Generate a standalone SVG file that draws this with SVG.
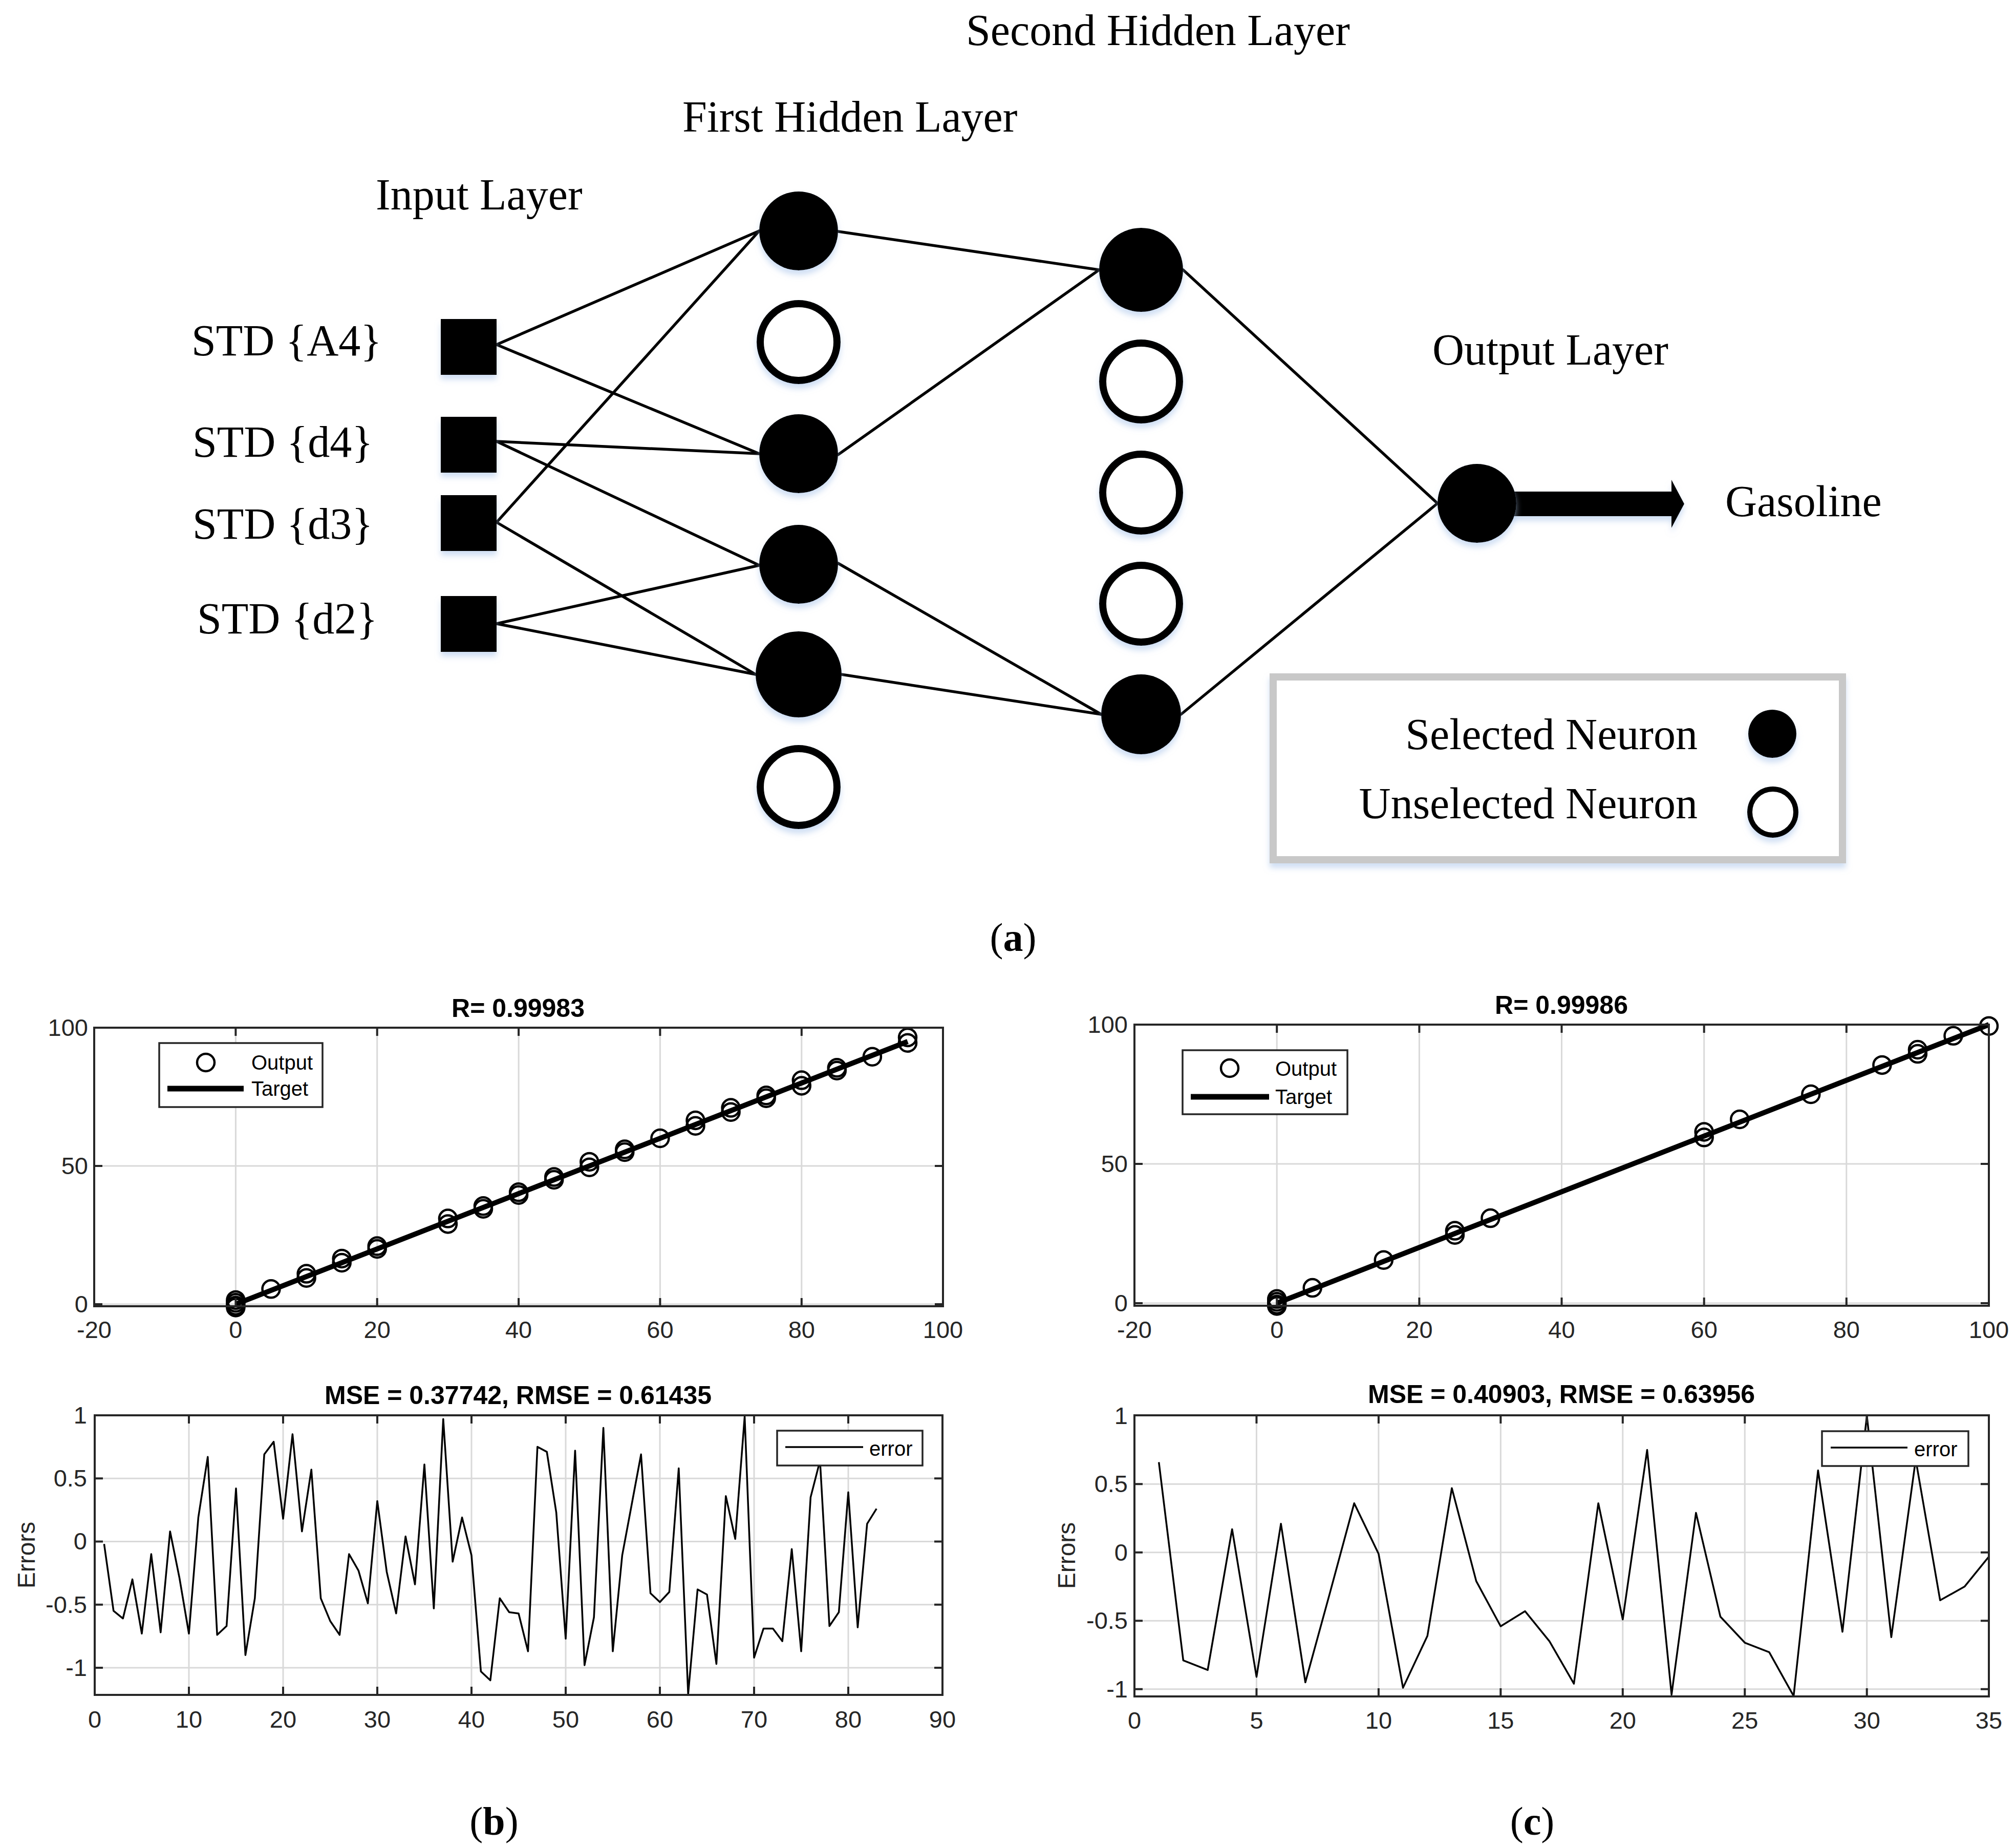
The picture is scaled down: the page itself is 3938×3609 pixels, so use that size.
<svg xmlns="http://www.w3.org/2000/svg" width="3938" height="3609" viewBox="0 0 3938 3609">
<defs>
<filter id="sh" x="-20%" y="-20%" width="140%" height="150%">
<feDropShadow dx="0" dy="9" stdDeviation="6" flood-color="#a8c4ea" flood-opacity="0.55"/>
</filter>
<style>
.serif{font-family:"Liberation Serif","Times New Roman",serif;font-size:86px;fill:#000}
.cap{font-family:"Liberation Serif","Times New Roman",serif;font-size:78px;fill:#000}
.fill{fill:#000;filter:url(#sh)}
.hol{fill:#fff;stroke:#000;stroke-width:14;filter:url(#sh)}
.conn{stroke:#000;stroke-width:5.5;fill:none;stroke-linecap:round}
.ax{fill:none;stroke:#262626;stroke-width:4}
.tk{fill:none;stroke:#262626;stroke-width:4}
.grid{stroke:#d9d9d9;stroke-width:3;fill:none}
.tl{font-family:"Liberation Sans",Arial,sans-serif;font-size:47px;fill:#262626}
.ttl{font-family:"Liberation Sans",Arial,sans-serif;font-size:50px;font-weight:bold;fill:#000}
.lg{font-family:"Liberation Sans",Arial,sans-serif;font-size:40px;fill:#000}
.ylab{font-family:"Liberation Sans",Arial,sans-serif;font-size:48px;fill:#262626}
.mk{fill:none;stroke:#000;stroke-width:4.5}
.tgt{stroke:#000;stroke-width:10;fill:none}
.err{fill:none;stroke:#000;stroke-width:3.5;vector-effect:non-scaling-stroke;stroke-linejoin:round}
.lgbox{fill:#fff;stroke:#262626;stroke-width:3.5}
</style>
</defs>
<rect width="3938" height="3609" fill="#fff"/>

<!-- layer titles -->
<g id="titles">
<text class="serif" x="1887" y="88">Second Hidden Layer</text>
<text class="serif" x="1333" y="257">First Hidden Layer</text>
<text class="serif" x="734" y="409">Input Layer</text>
<text class="serif" x="2798" y="712">Output Layer</text>
</g>

<!-- connectors -->
<g id="connectors">
<line class="conn" x1="970" y1="673" x2="1483" y2="451"/>
<line class="conn" x1="970" y1="673" x2="1483" y2="886"/>
<line class="conn" x1="970" y1="862" x2="1483" y2="886"/>
<line class="conn" x1="970" y1="862" x2="1483" y2="1104"/>
<line class="conn" x1="970" y1="1020" x2="1483" y2="451"/>
<line class="conn" x1="970" y1="1020" x2="1476" y2="1317"/>
<line class="conn" x1="970" y1="1218" x2="1483" y2="1104"/>
<line class="conn" x1="970" y1="1218" x2="1476" y2="1317"/>
<line class="conn" x1="1637" y1="452" x2="2147" y2="527"/>
<line class="conn" x1="1637" y1="888" x2="2147" y2="527"/>
<line class="conn" x1="1637" y1="1100" x2="2151" y2="1395"/>
<line class="conn" x1="1643" y1="1317" x2="2151" y2="1395"/>
<line class="conn" x1="2311" y1="527" x2="2808" y2="983"/>
<line class="conn" x1="2307" y1="1395" x2="2808" y2="983"/>
</g>

<!-- input layer -->
<g id="in-A4"><text class="serif" x="374" y="694">STD {A4}</text><rect class="fill" x="861" y="623" width="109" height="109"/></g>
<g id="in-d4"><text class="serif" x="376" y="892">STD {d4}</text><rect class="fill" x="861" y="814" width="109" height="109"/></g>
<g id="in-d3"><text class="serif" x="376" y="1052">STD {d3}</text><rect class="fill" x="861" y="967" width="109" height="109"/></g>
<g id="in-d2"><text class="serif" x="385" y="1237">STD {d2}</text><rect class="fill" x="861" y="1164" width="109" height="109"/></g>

<!-- first hidden layer -->
<g id="h1-1"><circle class="fill" cx="1560" cy="451" r="77"/></g>
<g id="h1-2"><circle class="hol" cx="1560" cy="668" r="75"/></g>
<g id="h1-3"><circle class="fill" cx="1560" cy="886" r="77"/></g>
<g id="h1-4"><circle class="fill" cx="1560" cy="1102" r="77"/></g>
<g id="h1-5"><circle class="fill" cx="1560" cy="1317" r="84"/></g>
<g id="h1-6"><circle class="hol" cx="1560" cy="1537" r="75"/></g>

<!-- second hidden layer -->
<g id="h2-1"><circle class="fill" cx="2229" cy="527" r="82"/></g>
<g id="h2-2"><circle class="hol" cx="2229" cy="745" r="75"/></g>
<g id="h2-3"><circle class="hol" cx="2229" cy="962" r="75"/></g>
<g id="h2-4"><circle class="hol" cx="2229" cy="1179" r="75"/></g>
<g id="h2-5"><circle class="fill" cx="2229" cy="1395" r="78"/></g>

<!-- output -->
<g id="output">
<polygon class="fill" points="2885,960 3265,960 3265,937 3290,984 3265,1031 3265,1008 2885,1008"/>
<circle class="fill" cx="2885" cy="983" r="77"/>
<text class="serif" x="3370" y="1008">Gasoline</text>
</g>

<!-- legend -->
<g id="legend">
<rect x="2487" y="1322" width="1112" height="357" fill="#fff" stroke="#c8c8c8" stroke-width="14" filter="url(#sh)"/>
<text class="serif" x="3316" y="1463" text-anchor="end">Selected Neuron</text>
<text class="serif" x="3316" y="1598" text-anchor="end">Unselected Neuron</text>
<circle class="fill" cx="3462" cy="1433" r="47"/>
<circle cx="3463" cy="1586" r="45" fill="#fff" stroke="#000" stroke-width="10" filter="url(#sh)"/>
</g>

<text class="cap" x="1979" y="1857" text-anchor="middle">(<tspan font-weight="bold">a</tspan>)</text>

<!-- ===== plot b top ===== -->
<g id="plot-b-top">
<text class="ttl" x="1012" y="1986" text-anchor="middle">R= 0.99983</text>
<path class="grid" d="M460.4 2007V2551M736.7 2007V2551M1013.1 2007V2551M1289.4 2007V2551M1565.8 2007V2551M184 2277H1842M184 2547H1842"/>
<line class="tgt" x1="460.4" y1="2547" x2="1773" y2="2034"/>
<g class="mk">
<circle cx="460.4" cy="2538.9" r="17"/><circle cx="460.4" cy="2544.3" r="17"/><circle cx="460.4" cy="2549.7" r="17"/><circle cx="460.4" cy="2553.5" r="17"/>
<circle cx="529.5" cy="2517.3" r="17"/>
<circle cx="598.6" cy="2495.7" r="17"/><circle cx="598.6" cy="2487.6" r="17"/>
<circle cx="667.7" cy="2466" r="17"/><circle cx="667.7" cy="2457.9" r="17"/>
<circle cx="736.7" cy="2439" r="17"/><circle cx="736.7" cy="2433.6" r="17"/>
<circle cx="874.9" cy="2390.4" r="17"/><circle cx="874.9" cy="2379.6" r="17"/>
<circle cx="944" cy="2360.7" r="17"/><circle cx="944" cy="2355.3" r="17"/>
<circle cx="1013.1" cy="2333.7" r="17"/><circle cx="1013.1" cy="2328.3" r="17"/>
<circle cx="1082.2" cy="2304" r="17"/><circle cx="1082.2" cy="2298.6" r="17"/>
<circle cx="1151.3" cy="2279.7" r="17"/><circle cx="1151.3" cy="2268.9" r="17"/>
<circle cx="1220.3" cy="2250" r="17"/><circle cx="1220.3" cy="2244.6" r="17"/>
<circle cx="1289.4" cy="2223" r="17"/>
<circle cx="1358.5" cy="2198.7" r="17"/><circle cx="1358.5" cy="2187.9" r="17"/>
<circle cx="1427.6" cy="2171.7" r="17"/><circle cx="1427.6" cy="2163.6" r="17"/>
<circle cx="1496.7" cy="2144.7" r="17"/><circle cx="1496.7" cy="2139.3" r="17"/>
<circle cx="1565.8" cy="2120.4" r="17"/><circle cx="1565.8" cy="2109.6" r="17"/>
<circle cx="1634.8" cy="2090.7" r="17"/><circle cx="1634.8" cy="2085.3" r="17"/>
<circle cx="1703.9" cy="2063.7" r="17"/>
<circle cx="1773" cy="2036.7" r="17"/><circle cx="1773" cy="2025.9" r="17"/>
</g>
<rect class="lgbox" x="311" y="2037" width="319" height="125"/>
<circle class="mk" cx="402" cy="2075" r="17"/>
<text class="lg" x="491" y="2089">Output</text>
<line x1="327" y1="2126" x2="476" y2="2126" stroke="#000" stroke-width="11"/>
<text class="lg" x="491" y="2140">Target</text>
<rect class="ax" x="184" y="2007" width="1658" height="544"/>
<path class="tk" d="M460.4 2551v-16M736.7 2551v-16M1013.1 2551v-16M1289.4 2551v-16M1565.8 2551v-16M460.4 2007v16M736.7 2007v16M1013.1 2007v16M1289.4 2007v16M1565.8 2007v16M184 2547h16M184 2277h16M1842 2547h-16M1842 2277h-16"/>
<g class="tl" text-anchor="middle">
<text x="184" y="2613">-20</text><text x="460.4" y="2613">0</text><text x="736.7" y="2613">20</text><text x="1013.1" y="2613">40</text><text x="1289.4" y="2613">60</text><text x="1565.8" y="2613">80</text><text x="1842" y="2613">100</text>
</g>
<g class="tl" text-anchor="end">
<text x="172" y="2563">0</text><text x="172" y="2293">50</text><text x="172" y="2023">100</text>
</g>
</g>

<!-- ===== plot c top ===== -->
<g id="plot-c-top">
<text class="ttl" x="3050" y="1980" text-anchor="middle">R= 0.99986</text>
<path class="grid" d="M2494.2 2001V2550M2772.4 2001V2550M3050.5 2001V2550M3328.7 2001V2550M3606.8 2001V2550M2216 2273H3885M2216 2545H3885"/>
<line class="tgt" x1="2494.2" y1="2545" x2="3885" y2="2001"/>
<g class="mk">
<circle cx="2494.2" cy="2536.8" r="17"/><circle cx="2494.2" cy="2542.3" r="17"/><circle cx="2494.2" cy="2547.7" r="17"/><circle cx="2494.2" cy="2550.4" r="17"/>
<circle cx="2563.7" cy="2515.1" r="17"/>
<circle cx="2702.8" cy="2460.7" r="17"/>
<circle cx="2841.9" cy="2411.7" r="17"/><circle cx="2841.9" cy="2403.6" r="17"/>
<circle cx="2911.4" cy="2379.1" r="17"/>
<circle cx="3328.7" cy="2221.3" r="17"/><circle cx="3328.7" cy="2210.4" r="17"/>
<circle cx="3398.2" cy="2186" r="17"/>
<circle cx="3537.3" cy="2137" r="17"/>
<circle cx="3676.4" cy="2079.9" r="17"/>
<circle cx="3745.9" cy="2058.1" r="17"/><circle cx="3745.9" cy="2050" r="17"/>
<circle cx="3815.5" cy="2022.8" r="17"/>
<circle cx="3885" cy="2003.7" r="17"/>
</g>
<rect class="lgbox" x="2310" y="2051" width="322" height="125"/>
<circle class="mk" cx="2402" cy="2086" r="17"/>
<text class="lg" x="2491" y="2101">Output</text>
<line x1="2326" y1="2142" x2="2479" y2="2142" stroke="#000" stroke-width="11"/>
<text class="lg" x="2491" y="2156">Target</text>
<rect class="ax" x="2216" y="2001" width="1669" height="549"/>
<path class="tk" d="M2494.2 2550v-16M2772.4 2550v-16M3050.5 2550v-16M3328.7 2550v-16M3606.8 2550v-16M2494.2 2001v16M2772.4 2001v16M3050.5 2001v16M3328.7 2001v16M3606.8 2001v16M2216 2545h16M2216 2273h16M3885 2545h-16M3885 2273h-16"/>
<g class="tl" text-anchor="middle">
<text x="2216" y="2613">-20</text><text x="2494.2" y="2613">0</text><text x="2772.4" y="2613">20</text><text x="3050.5" y="2613">40</text><text x="3328.7" y="2613">60</text><text x="3606.8" y="2613">80</text><text x="3885" y="2613">100</text>
</g>
<g class="tl" text-anchor="end">
<text x="2203" y="2561">0</text><text x="2203" y="2289">50</text><text x="2203" y="2017">100</text>
</g>
</g>

<!-- ===== plot b bottom ===== -->
<g id="plot-b-bottom">
<text class="ttl" x="1012" y="2742" text-anchor="middle">MSE = 0.37742, RMSE = 0.61435</text>
<path class="grid" d="M369 2764V3310M553 2764V3310M737 2764V3310M921 2764V3310M1105 2764V3310M1289 2764V3310M1473 2764V3310M1657 2764V3310M185 2887.15H1841M185 3010.4H1841M185 3133.65H1841M185 3256.9H1841"/>
<polyline class="err" transform="translate(185,3010.4) scale(18.4,-246.5)" points="1,-0.02 2,-0.55 3,-0.61 4,-0.30 5,-0.73 6,-0.10 7,-0.72 8,0.08 9,-0.29 10,-0.73 11,0.19 12,0.67 13,-0.74 14,-0.67 15,0.42 16,-0.90 17,-0.45 18,0.69 19,0.79 20,0.18 21,0.85 22,0.08 23,0.57 24,-0.45 25,-0.63 26,-0.74 27,-0.10 28,-0.23 29,-0.49 30,0.32 31,-0.24 32,-0.57 33,0.04 34,-0.34 35,0.61 36,-0.53 37,0.97 38,-0.16 39,0.19 40,-0.11 41,-1.03 42,-1.10 43,-0.45 44,-0.56 45,-0.57 46,-0.87 47,0.75 48,0.71 49,0.23 50,-0.77 51,0.72 52,-0.98 53,-0.60 54,0.90 55,-0.87 56,-0.11 57,0.29 58,0.69 59,-0.41 60,-0.48 61,-0.40 62,0.58 63,-1.21 64,-0.38 65,-0.42 66,-0.97 67,0.36 68,0.02 69,0.99 70,-0.92 71,-0.69 72,-0.69 73,-0.79 74,-0.06 75,-0.87 76,0.35 77,0.64 78,-0.67 79,-0.56 80,0.39 81,-0.68 82,0.14 83,0.26"/>
<rect class="lgbox" x="1518" y="2794" width="284" height="68"/>
<line x1="1534" y1="2826" x2="1686" y2="2826" stroke="#000" stroke-width="3.5"/>
<text class="lg" x="1698" y="2843">error</text>
<rect class="ax" x="185" y="2764" width="1656" height="546"/>
<path class="tk" d="M369 3310v-16M553 3310v-16M737 3310v-16M921 3310v-16M1105 3310v-16M1289 3310v-16M1473 3310v-16M1657 3310v-16M369 2764v16M553 2764v16M737 2764v16M921 2764v16M1105 2764v16M1289 2764v16M1473 2764v16M1657 2764v16M185 2887.15h16M185 3010.4h16M185 3133.65h16M185 3256.9h16M1841 2887.15h-16M1841 3010.4h-16M1841 3133.65h-16M1841 3256.9h-16"/>
<g class="tl" text-anchor="middle">
<text x="185" y="3374">0</text><text x="369" y="3374">10</text><text x="553" y="3374">20</text><text x="737" y="3374">30</text><text x="921" y="3374">40</text><text x="1105" y="3374">50</text><text x="1289" y="3374">60</text><text x="1473" y="3374">70</text><text x="1657" y="3374">80</text><text x="1841" y="3374">90</text>
</g>
<g class="tl" text-anchor="end">
<text x="170" y="2780">1</text><text x="170" y="2903">0.5</text><text x="170" y="3026">0</text><text x="170" y="3150">-0.5</text><text x="170" y="3273">-1</text>
</g>
<text class="ylab" transform="translate(68,3037) rotate(-90)" text-anchor="middle">Errors</text>
</g>

<!-- ===== plot c bottom ===== -->
<g id="plot-c-bottom">
<text class="ttl" x="3050" y="2740" text-anchor="middle">MSE = 0.40903, RMSE = 0.63956</text>
<path class="grid" d="M2454.45 2764V3313M2692.9 2764V3313M2931.35 2764V3313M3169.8 2764V3313M3408.25 2764V3313M3646.7 2764V3313M2216 2898.3H3885M2216 3031.8H3885M2216 3165.3H3885M2216 3298.8H3885"/>
<polyline class="err" transform="translate(2216,3031.8) scale(47.69,-267)" points="1,0.66 2,-0.79 3,-0.86 4,0.17 5,-0.91 6,0.21 7,-0.95 8,-0.30 9,0.36 10,-0.01 11,-0.99 12,-0.61 13,0.47 14,-0.21 15,-0.54 16,-0.43 17,-0.65 18,-0.96 19,0.36 20,-0.49 21,0.75 22,-1.04 23,0.29 24,-0.47 25,-0.66 26,-0.73 27,-1.05 28,0.60 29,-0.58 30,1.0 31,-0.62 32,0.68 33,-0.35 34,-0.25 35,-0.03"/>
<rect class="lgbox" x="3559" y="2795" width="286" height="68"/>
<line x1="3576" y1="2827" x2="3726" y2="2827" stroke="#000" stroke-width="3.5"/>
<text class="lg" x="3739" y="2844">error</text>
<rect class="ax" x="2216" y="2764" width="1669" height="549"/>
<path class="tk" d="M2454.45 3313v-16M2692.9 3313v-16M2931.35 3313v-16M3169.8 3313v-16M3408.25 3313v-16M3646.7 3313v-16M2454.45 2764v16M2692.9 2764v16M2931.35 2764v16M3169.8 2764v16M3408.25 2764v16M3646.7 2764v16M2216 2898.3h16M2216 3031.8h16M2216 3165.3h16M2216 3298.8h16M3885 2898.3h-16M3885 3031.8h-16M3885 3165.3h-16M3885 3298.8h-16"/>
<g class="tl" text-anchor="middle">
<text x="2216" y="3376">0</text><text x="2454.45" y="3376">5</text><text x="2692.9" y="3376">10</text><text x="2931.35" y="3376">15</text><text x="3169.8" y="3376">20</text><text x="3408.25" y="3376">25</text><text x="3646.7" y="3376">30</text><text x="3885" y="3376">35</text>
</g>
<g class="tl" text-anchor="end">
<text x="2203" y="2781">1</text><text x="2203" y="2914">0.5</text><text x="2203" y="3048">0</text><text x="2203" y="3181">-0.5</text><text x="2203" y="3315">-1</text>
</g>
<text class="ylab" transform="translate(2100,3038) rotate(-90)" text-anchor="middle">Errors</text>
</g>

<text class="cap" x="965" y="3583" text-anchor="middle">(<tspan font-weight="bold">b</tspan>)</text>
<text class="cap" x="2993" y="3583" text-anchor="middle">(<tspan font-weight="bold">c</tspan>)</text>
</svg>
